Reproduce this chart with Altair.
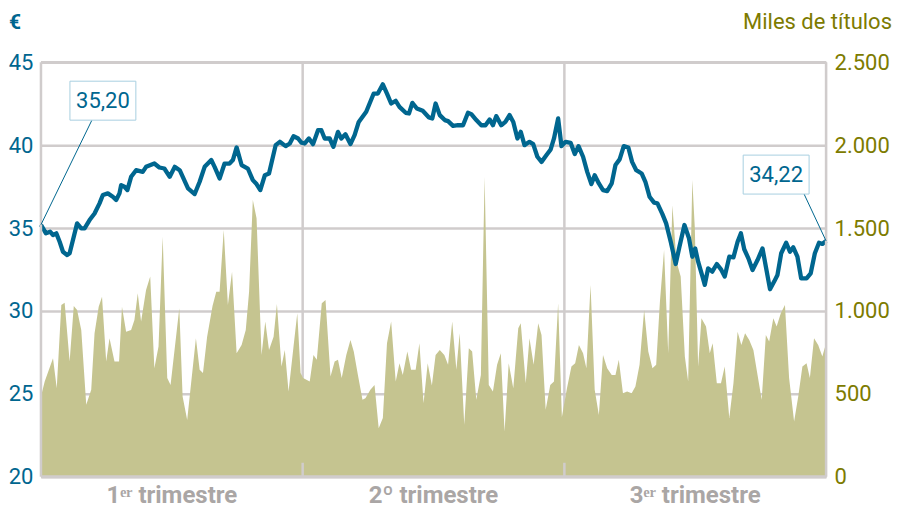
import altair as alt
import pandas as pd

# --- Cotización (€) : sesión, precio ---
precio_dia = [0, 1.2, 2.2, 2.9, 3.7, 4.5, 5.3, 6.3, 6.9, 7.7, 8.7, 9.7, 10.5, 11.7, 12.9, 14.1, 14.9, 16.1, 17.3, 18.1,
              18.9, 19.3, 20.1, 20.8, 21.7, 22.9, 24.5, 25.3, 27.3, 28.5, 29.7, 31.0, 32.2, 33.4, 35.4, 37.0, 38.2, 39.4,
              41.0, 41.8, 43.0, 44.2, 45.4, 46.2, 47.1, 48.3, 49.8, 51.0, 51.9, 52.8, 53.9, 54.9, 56.5, 57.5, 58.9, 59.9,
              60.8, 61.9, 62.7, 63.5, 64.5, 65.5, 66.7, 67.5, 68.3, 69.5, 70.4, 71.5, 72.3, 73.3, 74.5, 75.5, 76.5, 78.3,
              80.1, 81.1, 82.3, 83.3, 84.3, 85.4, 86.3, 87.8, 88.6, 89.4, 90.5, 91.9, 93.4, 94.2, 95.0, 96.0, 97.2, 98.0,
              99.2, 100.4, 101.6, 102.8, 103.6, 104.8, 106.0, 107.0, 108.0, 108.8, 109.6, 110.8, 111.8, 112.8, 113.7,
              114.7, 115.5, 116.4, 117.6, 118.5, 119.5, 120.5, 121.7, 122.7, 123.5, 124.5, 125.3, 126.3, 127.5, 128.5,
              129.4, 130.5, 131.5, 132.5, 133.3, 134.3, 135.3, 136.3, 137.4, 138.3, 139.3, 140.3, 141.4, 142.3, 143.3,
              144.6, 145.5, 146.5, 147.6, 148.4, 149.6, 150.5, 151.6, 152.8, 153.7, 154.9, 156.0, 156.8, 157.5, 158.2,
              159.2, 159.8, 160.6, 161.6, 162.7, 163.7, 164.6, 165.7, 166.7, 167.7, 168.5, 169.3, 170.3, 171.3, 172.5,
              173.7, 174.5, 175.5, 176.5, 177.3, 178.2, 179.4, 180.3, 181.1, 182.1, 183.0, 184.3, 185.3, 186.3, 187.3,
              188.1, 189]
precio_valor = [35.20, 34.68, 34.78, 34.58, 34.68, 34.17, 33.57, 33.37, 33.48, 34.28, 35.28, 34.98, 34.98, 35.48, 35.88,
                36.49, 36.99, 37.09, 36.89, 36.69, 37.09, 37.59, 37.49, 37.29, 38.09, 38.49, 38.39, 38.69, 38.89, 38.65,
                38.59, 38.09, 38.69, 38.49, 37.39, 37.05, 37.79, 38.69, 39.10, 38.69, 37.99, 38.89, 38.89, 39.10, 39.86,
                38.80, 38.59, 37.89, 37.65, 37.29, 38.19, 38.29, 40.00, 40.20, 39.94, 40.10, 40.54, 40.40, 40.15, 40.10,
                40.40, 40.06, 40.90, 40.90, 40.40, 40.40, 39.90, 40.80, 40.40, 40.66, 40.06, 40.60, 41.40, 42.01, 43.11,
                43.11, 43.67, 43.11, 42.51, 42.67, 42.31, 41.95, 41.91, 42.55, 42.21, 42.07, 41.67, 41.61, 42.51, 41.81,
                41.51, 41.45, 41.16, 41.20, 41.20, 41.95, 41.87, 41.51, 41.20, 41.20, 41.55, 41.20, 41.75, 41.20, 41.40,
                41.81, 41.40, 40.40, 40.80, 40.00, 40.20, 40.06, 39.30, 38.99, 39.40, 39.74, 40.40, 41.61, 39.94, 40.20,
                40.14, 39.46, 39.94, 39.30, 38.39, 37.65, 38.19, 37.69, 37.29, 37.23, 37.69, 38.80, 39.14, 39.94, 39.86,
                38.99, 38.49, 38.29, 37.79, 36.89, 36.53, 36.49, 35.84, 35.28, 34.17, 32.83, 33.87, 35.18, 34.38, 33.27,
                33.77, 32.97, 32.11, 31.57, 32.57, 32.37, 32.83, 32.51, 32.07, 33.27, 33.23, 34.17, 34.68, 33.72, 33.17,
                32.47, 33.07, 33.77, 32.67, 31.31, 31.77, 32.17, 33.48, 34.11, 33.57, 33.84, 33.27, 31.97, 31.97, 32.27,
                33.48, 34.11, 34.04, 34.22]

# --- Volumen (miles de títulos) : sesión, volumen ---
volumen_dia = [0, 0.9, 2.9, 3.8, 4.9, 5.7, 6.9, 7.9, 8.7, 9.7, 10.9, 12.1, 12.9, 13.9, 14.7, 15.7, 16.5, 17.7, 18.8,
               19.5, 20.5, 21.7, 22.5, 23.3, 24.1, 25.3, 26.3, 27.3, 28.3, 29.3, 30.4, 31.2, 33.3, 34.1, 35.2, 37.3,
               38.2, 39.0, 40.0, 41.3, 42.2, 43.0, 44.0, 45.0, 46.0, 47.1, 48.3, 49.3, 50.1, 51.0, 51.9, 53.1, 54.0,
               54.9, 56.0, 56.8, 57.9, 58.7, 59.6, 60.8, 61.7, 62.5, 63.1, 64.7, 65.6, 66.4, 67.6, 68.5, 69.7, 70.7,
               71.5, 72.4, 73.5, 74.5, 75.3, 76.3, 77.4, 78.1, 79.3, 80.3, 81.3, 82.3, 83.3, 84.3, 85.4, 86.3, 87.1,
               88.2, 89.1, 90.2, 91.1, 92.1, 93.1, 94.1, 95.0, 96.0, 97.1, 98.0, 99.0, 100.0, 100.8, 101.9, 103.0,
               103.8, 104.8, 105.9, 106.8, 107.8, 108.8, 109.8, 110.7, 111.6, 112.6, 113.7, 114.9, 115.5, 116.7, 117.6,
               118.6, 119.7, 120.5, 121.5, 122.6, 123.5, 124.5, 125.4, 126.6, 127.7, 128.6, 129.5, 130.5, 131.3, 132.3,
               133.3, 134.3, 135.3, 136.3, 137.4, 138.3, 139.1, 140.1, 141.1, 142.2, 143.1, 144.1, 145.2, 146.2, 147.2,
               148.1, 149.0, 150.0, 151.0, 152.0, 153.0, 154.0, 155.0, 155.8, 156.8, 157.4, 158.2, 159.0, 160.1, 161.0,
               161.7, 162.7, 163.7, 164.6, 165.7, 166.7, 167.7, 168.6, 169.5, 170.5, 171.5, 172.5, 173.5, 174.5, 175.3,
               176.3, 177.1, 178.1, 179.1, 180.1, 181.3, 182.3, 183.3, 184.3, 185.1, 186.1, 187.1, 188.1, 189.0]
volumen_valor = [484, 574, 715, 534, 1036, 1050, 695, 1030, 1006, 885, 434, 524, 866, 1026, 1086, 695, 835, 695, 695,
                 1026, 875, 885, 946, 1106, 936, 1127, 1207, 655, 785, 1448, 595, 554, 1016, 484, 343, 835, 645, 625,
                 845, 1030, 1116, 1116, 1488, 1036, 1237, 745, 795, 885, 1116, 1669, 1559, 735, 936, 765, 845, 1042,
                 665, 765, 514, 785, 986, 625, 595, 574, 735, 705, 1046, 1066, 604, 695, 705, 595, 735, 825, 755, 614,
                 464, 474, 524, 554, 293, 354, 805, 936, 574, 685, 614, 755, 645, 645, 805, 444, 685, 550, 735, 765,
                 735, 675, 936, 645, 866, 313, 775, 755, 464, 614, 1809, 554, 514, 675, 745, 273, 685, 534, 896, 926,
                 564, 835, 675, 926, 855, 404, 554, 574, 1046, 360, 530, 665, 685, 795, 745, 655, 1157, 524, 373, 735,
                 655, 614, 614, 705, 504, 514, 504, 544, 675, 1006, 755, 655, 675, 1056, 1367, 745, 1638, 1297, 1207,
                 725, 574, 1789, 1500, 665, 956, 906, 745, 805, 564, 564, 665, 354, 564, 875, 795, 866, 825, 765, 614,
                 464, 855, 815, 956, 906, 986, 1036, 595, 333, 484, 665, 685, 595, 835, 795, 725, 805]

trimestres = ["1ᵉʳ trimestre", "2º trimestre", "3ᵉʳ trimestre"]
trimestre_centro = [31.5, 94.5, 157.5]
limites_trimestre = [63, 126]
etiquetas_dia = [0, 189]
etiquetas_precio = [35.20, 34.22]
etiquetas_texto = ["35,20", "34,22"]

AZUL = "#00668f"
OLIVA = "#7d7b00"
AREA = "#c5c490"
GRIS = "#d0cccc"
GRIS_TXT = "#aaa6a5"
CAJA = "#a8cfe0"
FONT = "Roboto"

W, H = 786, 415
XDOM = [0, 189]
PDOM = [20, 45]
VDOM = [0, 2500]

df_p = pd.DataFrame({"dia": precio_dia, "precio": precio_valor})
df_v = pd.DataFrame({"dia": volumen_dia, "volumen": volumen_valor})
df_q = pd.DataFrame({"dia": trimestre_centro, "txt": trimestres})
df_l = pd.DataFrame({"dia": limites_trimestre})
df_e = pd.DataFrame({"dia": etiquetas_dia, "precio": etiquetas_precio, "txt": etiquetas_texto})
one = pd.DataFrame({"a": [0]})

xs = alt.Scale(domain=XDOM, nice=False, zero=False)
X = alt.X("dia:Q", scale=xs, axis=None)
ps = alt.Scale(domain=PDOM, nice=False, zero=False)

limites = alt.Chart(df_l).mark_rule(color=GRIS, strokeWidth=2.5).encode(x=X)

area = alt.Chart(df_v).mark_area(color=AREA, opacity=1, interpolate="linear").encode(
    x=X,
    y=alt.Y("volumen:Q", scale=alt.Scale(domain=VDOM, nice=False),
            axis=alt.Axis(orient="right", values=[0, 500, 1000, 1500, 2000, 2500], grid=False,
                          domain=False, ticks=False, labelColor=OLIVA, labelFontSize=22, labelPadding=8,
                          labelFont=FONT, labelExpr="replace(format(datum.value, ','), ',', '.')", title=None)),
)

linea = alt.Chart(df_p).mark_line(color=AZUL, strokeWidth=4.3, strokeJoin="round", interpolate="linear").encode(
    x=X,
    y=alt.Y("precio:Q", scale=ps,
            axis=alt.Axis(orient="left", values=[20, 25, 30, 35, 40, 45], grid=True, gridColor=GRIS,
                          gridWidth=2.5, domain=False, ticks=False, labelColor=AZUL, labelFontSize=22,
                          labelPadding=8, labelFont=FONT, title=None)),
)

marcas = alt.Chart(df_l).mark_rule(color=GRIS, strokeWidth=2.5).encode(x=X, y=alt.value(H - 14), y2=alt.value(H))

marco = alt.layer(
    alt.Chart(one).mark_rule(color=GRIS, strokeWidth=2.5).encode(x=alt.value(0), x2=alt.value(W), y=alt.value(0)),
    alt.Chart(one).mark_rule(color=GRIS, strokeWidth=3).encode(x=alt.value(0), x2=alt.value(W), y=alt.value(H)),
    alt.Chart(one).mark_rule(color=GRIS, strokeWidth=2.5).encode(x=alt.value(0), y=alt.value(0), y2=alt.value(H)),
    alt.Chart(one).mark_rule(color=GRIS, strokeWidth=2.5).encode(x=alt.value(W), y=alt.value(0), y2=alt.value(H)),
)

Yp = alt.Y("precio:Q", scale=ps, axis=None)
e1 = df_e.iloc[[0]]
e2 = df_e.iloc[[1]]
anot = alt.layer(
    alt.Chart(e1).mark_rule(color=AZUL, strokeWidth=1).encode(x=X, y=Yp, x2=alt.value(51), y2=alt.value(58)),
    alt.Chart(e1).mark_rect(fill="white", stroke=CAJA, strokeWidth=1).encode(
        x=alt.value(29), x2=alt.value(95), y=alt.value(19), y2=alt.value(58)),
    alt.Chart(e1).mark_text(color=AZUL, fontSize=22, font=FONT, align="center", baseline="middle").encode(
        x=alt.value(62), y=alt.value(39), text="txt:N"),
    alt.Chart(e2).mark_rule(color=AZUL, strokeWidth=1).encode(x=X, y=Yp, x2=alt.value(764), y2=alt.value(132)),
    alt.Chart(e2).mark_rect(fill="white", stroke=CAJA, strokeWidth=1).encode(
        x=alt.value(703), x2=alt.value(769), y=alt.value(93), y2=alt.value(132)),
    alt.Chart(e2).mark_text(color=AZUL, fontSize=22, font=FONT, align="center", baseline="middle").encode(
        x=alt.value(736), y=alt.value(113), text="txt:N"),
)

trim = alt.Chart(df_q).mark_text(color=GRIS_TXT, fontSize=24, fontWeight="bold", font=FONT,
                                 align="center", baseline="middle").encode(x=X, y=alt.value(H + 19), text="txt:N")

titulos = alt.layer(
    alt.Chart(one).mark_text(text="€", color=AZUL, fontSize=21, fontWeight="bold", font=FONT,
                             align="left", baseline="top").encode(x=alt.value(-32), y=alt.value(-50)),
    alt.Chart(one).mark_text(text="Miles de títulos", color=OLIVA, fontSize=22, font=FONT,
                             align="right", baseline="top").encode(x=alt.value(852), y=alt.value(-50)),
)

chart = alt.layer(limites, area, linea, marcas, marco, anot, trim, titulos).resolve_scale(
    y="independent"
).properties(
    width=W, height=H,
    padding={"left": 33, "top": 54, "right": 70, "bottom": 33},
    autosize=alt.AutoSizeParams(type="none"),
).configure_view(stroke=None).configure(font=FONT)

chart.save("out.html", embed_options={"renderer": "svg", "actions": False})
